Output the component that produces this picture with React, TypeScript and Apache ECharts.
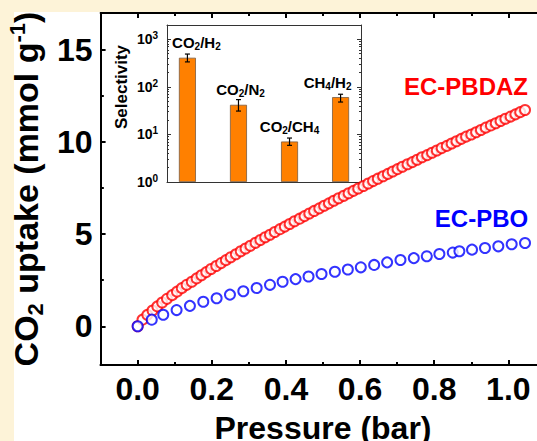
import React, { useEffect, useRef } from "react";
import * as echarts from "echarts";

// ---------- main chart data ----------
const pressurePBDAZ = [0, 0.013, 0.026, 0.040, 0.053, 0.066, 0.079, 0.093, 0.106, 0.119, 0.132, 0.146, 0.159, 0.172, 0.185, 0.198, 0.212, 0.225, 0.238, 0.251, 0.265, 0.278, 0.291, 0.304, 0.318, 0.331, 0.344, 0.357, 0.370, 0.384, 0.397, 0.410, 0.423, 0.437, 0.450, 0.463, 0.476, 0.490, 0.503, 0.516, 0.529, 0.542, 0.556, 0.569, 0.582, 0.595, 0.609, 0.622, 0.635, 0.648, 0.662, 0.675, 0.688, 0.701, 0.714, 0.728, 0.741, 0.754, 0.767, 0.781, 0.794, 0.807, 0.820, 0.834, 0.847, 0.860, 0.873, 0.886, 0.900, 0.913, 0.926, 0.939, 0.953, 0.966, 0.979, 0.992, 1.006, 1.019, 1.032, 1.045];
const uptakePBDAZ = [0, 0.36, 0.62, 0.86, 1.08, 1.29, 1.49, 1.69, 1.88, 2.07, 2.25, 2.42, 2.60, 2.77, 2.94, 3.11, 3.27, 3.43, 3.59, 3.75, 3.91, 4.07, 4.22, 4.37, 4.53, 4.68, 4.83, 4.97, 5.12, 5.27, 5.41, 5.55, 5.70, 5.84, 5.98, 6.12, 6.26, 6.40, 6.54, 6.67, 6.81, 6.95, 7.08, 7.22, 7.35, 7.48, 7.61, 7.75, 7.88, 8.01, 8.14, 8.27, 8.40, 8.53, 8.66, 8.79, 8.91, 9.04, 9.17, 9.29, 9.42, 9.54, 9.67, 9.79, 9.92, 10.04, 10.17, 10.29, 10.41, 10.53, 10.65, 10.78, 10.90, 11.02, 11.14, 11.26, 11.38, 11.50, 11.62, 11.74];

const pressurePBO = [0, 0.038, 0.069, 0.105, 0.141, 0.177, 0.213, 0.249, 0.285, 0.321, 0.357, 0.391, 0.426, 0.461, 0.496, 0.532, 0.567, 0.602, 0.638, 0.673, 0.709, 0.745, 0.780, 0.814, 0.850, 0.868, 0.902, 0.937, 0.973, 1.009, 1.045];
const uptakePBO = [0, 0.36, 0.63, 0.88, 1.11, 1.33, 1.52, 1.72, 1.90, 2.08, 2.25, 2.42, 2.56, 2.70, 2.84, 2.96, 3.08, 3.20, 3.33, 3.47, 3.60, 3.70, 3.80, 3.92, 4.00, 4.07, 4.16, 4.25, 4.34, 4.45, 4.52];

const xMajorTicks = [0, 0.2, 0.4, 0.6, 0.8, 1.0];
const xMinorTicks = [0.1, 0.3, 0.5, 0.7, 0.9];
const yMajorTicks = [0, 5, 10, 15];
const yMinorTicks = [2.5, 7.5, 12.5];

const seriesNames = ["EC-PBDAZ", "EC-PBO"];

// ---------- inset data ----------
const insetCategories = ["CO2/H2", "CO2/N2", "CO2/CH4", "CH4/H2"];
const selectivity = [410, 42, 7.1, 61];
const selectivityLow = [335, 31, 5.9, 48];
const selectivityHigh = [490, 54, 8.4, 70];
const insetMajorTicks = [1, 10, 100, 1000];
const insetMinorTicks = [2, 3, 4, 5, 6, 7, 8, 9, 20, 30, 40, 50, 60, 70, 80, 90, 200, 300, 400, 500, 600, 700, 800, 900];

const FONT = "'Liberation Sans', Arial, Helvetica, sans-serif";

function richFormula(s: string) {
  return String(s || "")
    .split(/(\d+)/)
    .filter(Boolean)
    .map((p) => (/^\d+$/.test(p) ? `{s|${p}}` : `{a|${p}}`))
    .join("");
}

export default function App() {
  const ref = useRef<HTMLDivElement>(null);

  useEffect(() => {
    if (!ref.current) return;
    const chart = echarts.init(ref.current, undefined, { renderer: "svg" });

    const labelOffsets = [[9, 0], [2, 0], [0, 0], [-13, 0]];

    const black2 = { color: "#000", width: 2 };
    const gray1 = { color: "#333", width: 1 };
    const mainRect = { left: 100.6, top: 13, right: -8.4, bottom: 76, outerBoundsMode: "none", containLabel: false };
    const insetRect = { left: 167, top: 25, width: 194, height: 157, outerBoundsMode: "none", containLabel: false };
    const belowRect = { left: 100.6, right: -8.4, top: 365, height: 40, outerBoundsMode: "none", containLabel: false };
    const leftRect = { left: 0, width: 100.6, top: 13, bottom: 76, outerBoundsMode: "none", containLabel: false };

    const hidden = {
      splitLine: { show: false },
      axisLine: { show: false, onZero: false },
      axisTick: { show: false },
      axisLabel: { show: false },
    };
    const mainX = (gridIndex: number, position: string, extra: any) => ({
      gridIndex, type: "value", position, min: -0.1, max: 1.1, ...hidden, ...extra,
    });
    const mainY = (gridIndex: number, position: string, extra: any) => ({
      gridIndex, type: "value", position, min: -2.1, max: 17, ...hidden, ...extra,
    });
    const insetX = (gridIndex: number, position: string, extra: any) => ({
      gridIndex, type: "value", position, min: -0.4, max: 3.4, ...hidden, ...extra,
    });
    const insetY = (gridIndex: number, position: string, extra: any) => ({
      gridIndex, type: "log", logBase: 10, position, min: 1, max: 2000, ...hidden, ...extra,
    });

    const option: any = {
      animation: false,
      textStyle: { fontFamily: FONT },
      grid: [mainRect, insetRect, { ...mainRect }, { ...insetRect }, belowRect, { ...belowRect }, leftRect],
      xAxis: [
        // 0 main bottom: labels + name (+ line/ticks)
        mainX(0, "bottom", {
          axisLine: { show: true, onZero: false, lineStyle: black2 },
          axisTick: { show: true, inside: true, length: 5, customValues: xMajorTicks, lineStyle: black2 },
          axisLabel: {
            show: true,
            customValues: xMajorTicks,
            formatter: (v: any) => {
              const n = Number(v);
              return isFinite(n) ? n.toFixed(1) : "";
            },
            color: "#000",
            fontSize: 32,
            fontWeight: "bold",
            fontFamily: FONT,
            margin: 8,
          },
          name: "Pressure (bar)",
          nameLocation: "middle",
          nameGap: 42,
          nameTextStyle: { color: "#000", fontSize: 32, fontWeight: "bold", fontFamily: FONT, lineHeight: 36 },
        }),
        // 1 main top
        mainX(0, "top", {
          axisLine: { show: true, onZero: false, lineStyle: black2 },
          axisTick: { show: true, inside: true, length: 5, customValues: xMajorTicks, lineStyle: black2 },
        }),
        // 2,3 inset frame
        insetX(1, "bottom", { axisLine: { show: true, onZero: false, lineStyle: gray1 } }),
        insetX(1, "top", { axisLine: { show: true, onZero: false, lineStyle: gray1 } }),
        // 4,5 main minor
        mainX(2, "bottom", {
          axisTick: { show: true, inside: true, length: 3, customValues: xMinorTicks, lineStyle: black2 },
        }),
        mainX(2, "top", {
          axisTick: { show: true, inside: true, length: 3, customValues: xMinorTicks, lineStyle: black2 },
        }),
        // 6 inset minor helper
        insetX(3, "bottom", {}),
        // 7 bottom frame line drawn as top axis of a grid just below the plot
        mainX(4, "top", {
          axisLine: { show: true, onZero: false, lineStyle: black2 },
          axisTick: { show: true, inside: false, length: 5, customValues: xMajorTicks, lineStyle: black2 },
        }),
        // 8 bottom minor ticks
        mainX(5, "top", {
          axisTick: { show: true, inside: false, length: 3, customValues: xMinorTicks, lineStyle: black2 },
        }),
        // 9 helper for left grid
        mainX(6, "bottom", {}),
      ],
      yAxis: [
        // 0 main left
        mainY(0, "left", {
          axisLine: { show: true, onZero: false, lineStyle: black2 },
          axisTick: { show: true, inside: true, length: 5, customValues: yMajorTicks, lineStyle: black2 },
          axisLabel: {
            show: true,
            customValues: yMajorTicks,
            color: "#000",
            fontSize: 32,
            fontWeight: "bold",
            fontFamily: FONT,
            margin: 8,
          },
          name: "{a|CO}{sub|2}{a| uptake (mmol g}{sup|-1}{a|)}",
          nameLocation: "middle",
          nameGap: 49,
          nameTextStyle: {
            color: "#000",
            fontFamily: FONT,
            rich: {
              a: { fontSize: 34, fontWeight: "bold", fontFamily: FONT, color: "#000", lineHeight: 40 },
              sub: { fontSize: 22, fontWeight: "bold", fontFamily: FONT, color: "#000", lineHeight: 22, verticalAlign: "bottom" },
              sup: { fontSize: 22, fontWeight: "bold", fontFamily: FONT, color: "#000", lineHeight: 22, verticalAlign: "top" },
            },
          },
        }),
        // 1 inset left with labels
        insetY(1, "left", {
          axisLine: { show: true, onZero: false, lineStyle: gray1 },
          axisTick: { show: true, inside: true, length: 4, customValues: insetMajorTicks, lineStyle: gray1 },
          axisLabel: {
            show: true,
            customValues: insetMajorTicks,
            margin: 9,
            formatter: (v: any) => {
              const n = Number(v);
              return n > 0 ? `{b|10}{e|${Math.round(Math.log10(n))}}` : "";
            },
            rich: {
              b: { fontSize: 14, fontWeight: "bold", fontFamily: FONT, color: "#000", lineHeight: 17 },
              e: { fontSize: 10, fontWeight: "bold", fontFamily: FONT, color: "#000", lineHeight: 10, verticalAlign: "top" },
            },
          },
        }),
        // 2 inset right
        insetY(1, "right", {
          axisLine: { show: true, onZero: false, lineStyle: gray1 },
          axisTick: { show: true, inside: true, length: 4, customValues: insetMajorTicks, lineStyle: gray1 },
        }),
        // 3 main minor left
        mainY(2, "left", {
          axisTick: { show: true, inside: true, length: 3, customValues: yMinorTicks, lineStyle: black2 },
        }),
        // 4,5 inset minor
        insetY(3, "left", {
          axisTick: { show: true, inside: true, length: 2, customValues: insetMinorTicks, lineStyle: gray1 },
        }),
        insetY(3, "right", {
          axisTick: { show: true, inside: true, length: 2, customValues: insetMinorTicks, lineStyle: gray1 },
        }),
        // 6,7 helpers for below grids
        mainY(4, "left", {}),
        mainY(5, "left", {}),
        // 8 left minor ticks as right axis of a grid left of the plot
        mainY(6, "right", {
          axisTick: { show: true, inside: false, length: 3, customValues: yMinorTicks, lineStyle: black2 },
        }),
      ],
      series: [
        {
          name: seriesNames[0],
          type: "scatter",
          xAxisIndex: 0,
          yAxisIndex: 0,
          symbol: "emptyCircle",
          symbolSize: 10,
          itemStyle: { color: "#ff0000", borderColor: "#ff0000", borderWidth: 2 },
          data: pressurePBDAZ.map((x, i) => [x, uptakePBDAZ[i]]),
          z: 3,
        },
        {
          name: seriesNames[1],
          type: "scatter",
          xAxisIndex: 0,
          yAxisIndex: 0,
          symbol: "emptyCircle",
          symbolSize: 10,
          itemStyle: { color: "#0000ff", borderColor: "#0000ff", borderWidth: 2 },
          data: pressurePBO.map((x, i) => [x, uptakePBO[i]]),
          z: 4,
        },
        {
          type: "bar",
          xAxisIndex: 2,
          yAxisIndex: 1,
          barWidth: 17,
          itemStyle: { color: "#ff8000", borderColor: "#7a5a40", borderWidth: 0.8 },
          label: {
            show: true,
            position: "top",
            distance: 6,
            formatter: (p: any) => richFormula(insetCategories[p.dataIndex]),
            rich: {
              a: { fontSize: 15, fontWeight: "bold", fontFamily: FONT, color: "#000", lineHeight: 18 },
              s: { fontSize: 10, fontWeight: "bold", fontFamily: FONT, color: "#000", lineHeight: 10, verticalAlign: "bottom" },
            },
          },
          data: selectivity.map((v, i) => ({ value: [i, v], label: { offset: labelOffsets[i] } })),
          z: 2,
        },
        {
          type: "custom",
          xAxisIndex: 2,
          yAxisIndex: 1,
          data: selectivity.map((_, i) => [i, selectivityLow[i], selectivityHigh[i]]),
          renderItem: (params: any, api: any) => {
            const x = api.value(0);
            const hi = api.coord([x, api.value(2)]);
            const lo = api.coord([x, api.value(1)]);
            const cap = 2.5;
            const st = { stroke: "#000", lineWidth: 1.2 };
            return {
              type: "group",
              children: [
                { type: "line", shape: { x1: hi[0], y1: hi[1], x2: lo[0], y2: lo[1] }, style: st },
                { type: "line", shape: { x1: hi[0] - cap, y1: hi[1], x2: hi[0] + cap, y2: hi[1] }, style: st },
                { type: "line", shape: { x1: lo[0] - cap, y1: lo[1], x2: lo[0] + cap, y2: lo[1] }, style: st },
              ],
            };
          },
          z: 5,
        },
      ],
      graphic: [
        {
          type: "text",
          x: 466,
          y: 86.5,
          style: {
            text: seriesNames[0],
            fill: "#ff0000",
            fontSize: 24,
            fontWeight: "bold",
            fontFamily: FONT,
            textAlign: "center",
            textVerticalAlign: "middle",
          },
        },
        {
          type: "text",
          x: 481.5,
          y: 218.5,
          style: {
            text: seriesNames[1],
            fill: "#0000ff",
            fontSize: 24,
            fontWeight: "bold",
            fontFamily: FONT,
            textAlign: "center",
            textVerticalAlign: "middle",
          },
        },
        {
          type: "text",
          x: 121,
          y: 87,
          rotation: Math.PI / 2,
          style: {
            text: "Selectivity",
            fill: "#000",
            fontSize: 17,
            fontWeight: "bold",
            fontFamily: FONT,
            textAlign: "center",
            textVerticalAlign: "middle",
          },
        },
      ],
    };

    chart.setOption(option);
    return () => chart.dispose();
  }, []);

  return (
    <div style={{ position: "fixed", left: 0, top: 0, width: 537, height: 441, background: "#fdf3d8", overflow: "hidden" }}>
      <div style={{ position: "absolute", left: 14, top: 12, right: 0, bottom: 0, background: "#ffffff" }} />
      <div ref={ref} style={{ position: "absolute", left: 0, top: 0, width: 537, height: 441 }} />
    </div>
  );
}
